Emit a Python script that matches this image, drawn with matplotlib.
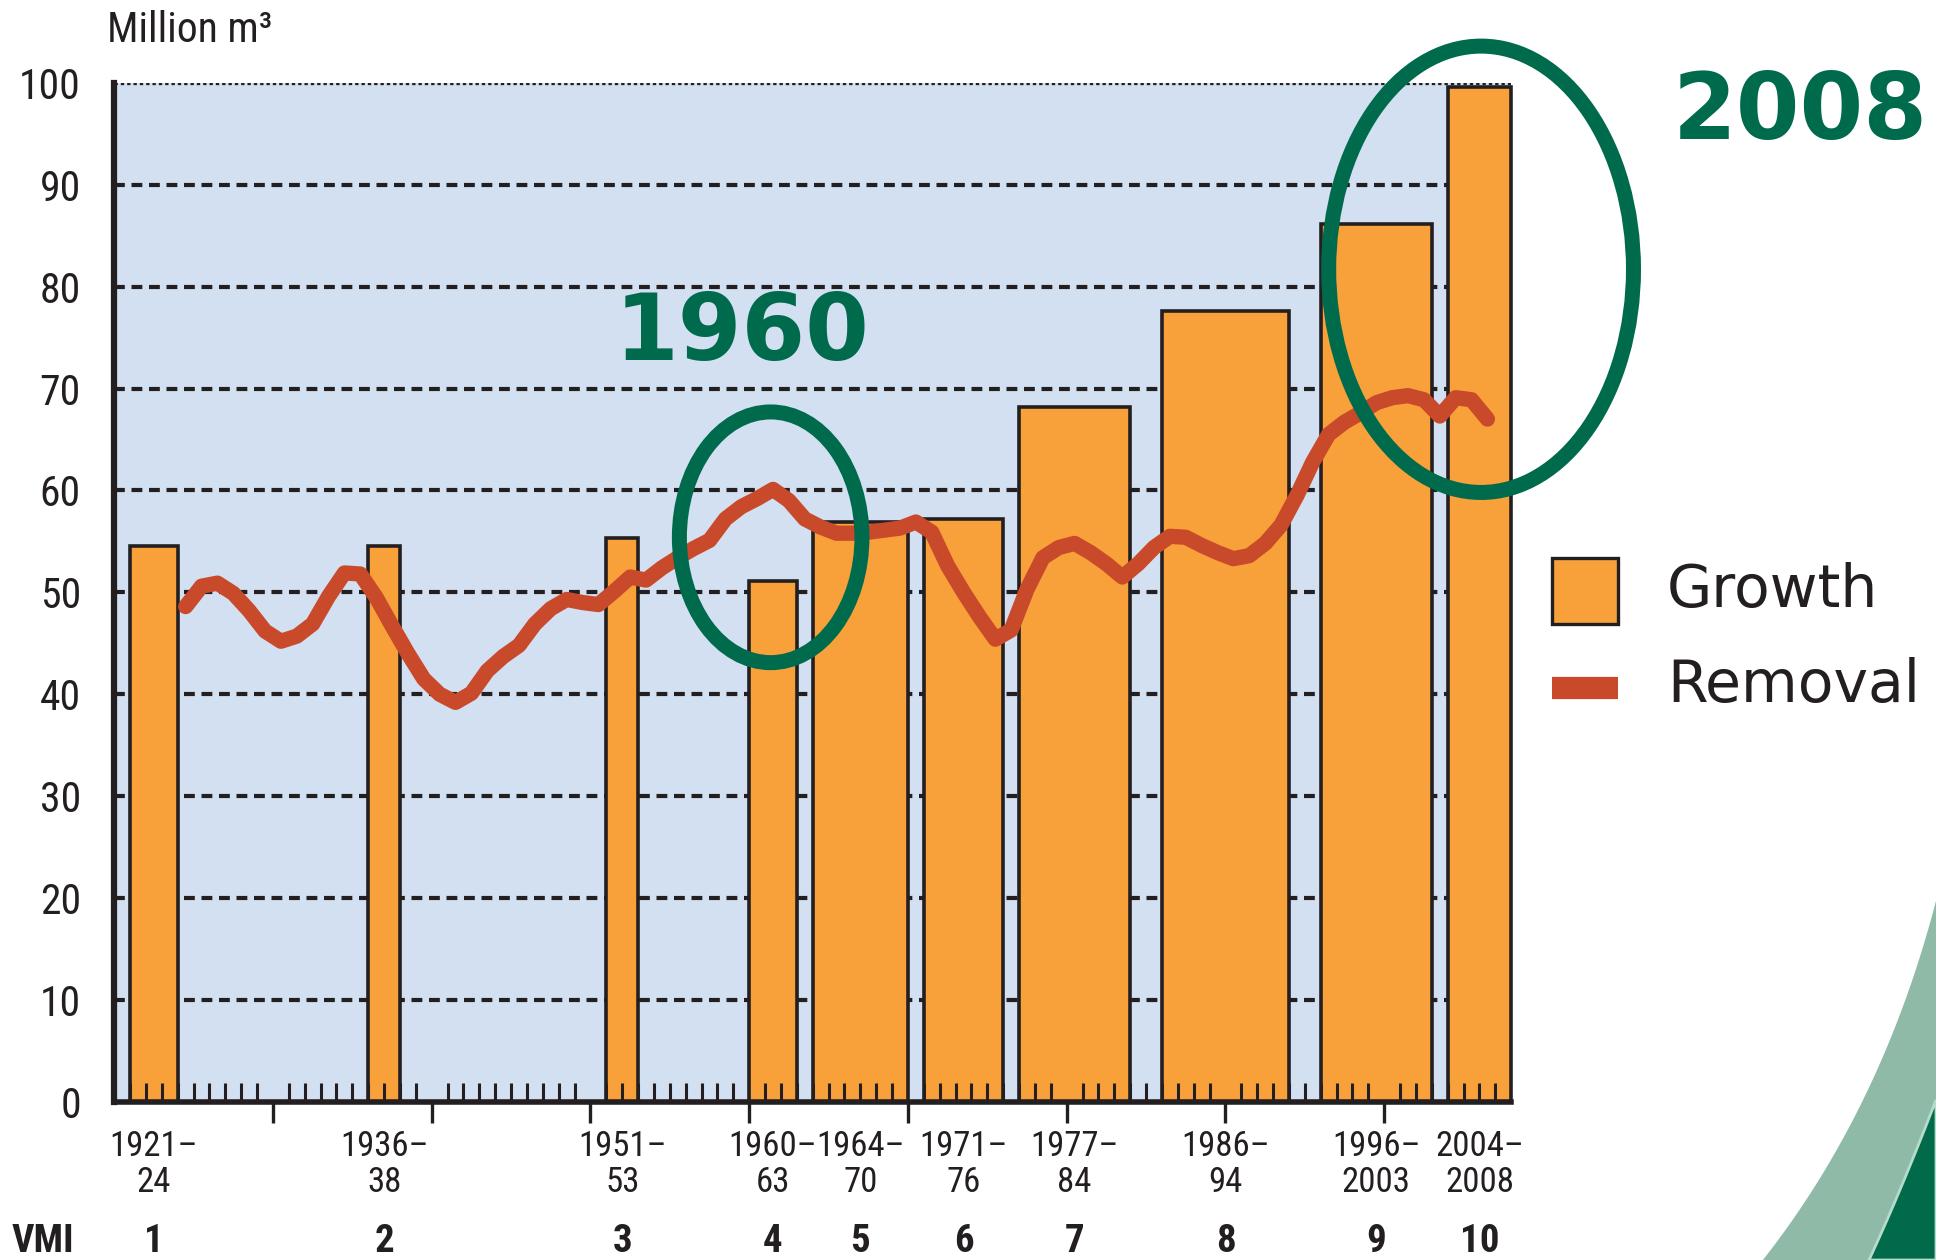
import matplotlib
matplotlib.use("Agg")
import matplotlib.pyplot as plt
from matplotlib import font_manager
from matplotlib.patches import Ellipse, Rectangle, Polygon
from matplotlib.lines import Line2D
import numpy as np

# 좁은(condensed) 글꼴 찾기 - 없으면 DejaVu Sans 사용
def find_narrow_font(bold=False):
    prefer = ['Liberation Sans Narrow', 'Roboto Condensed', 'Open Sans Condensed',
              'Noto Sans', 'Roboto', 'Open Sans', 'DejaVu Sans', 'Lato', 'Inter']
    found = []
    for f in font_manager.fontManager.ttflist:
        st = f.stretch
        is_narrow = ('Narrow' in f.name or 'Condensed' in f.name or
                     (isinstance(st, str) and 'condensed' in st) or
                     (isinstance(st, int) and st < 500))
        if not is_narrow or f.style != 'normal':
            continue
        w = f.weight if isinstance(f.weight, int) else (700 if 'bold' in str(f.weight) else 400)
        if bold and w < 600:
            continue
        if not bold and w != 400:
            continue
        rank = prefer.index(f.name) if f.name in prefer else len(prefer)
        found.append((rank, f.fname))
    if found:
        found.sort()
        return font_manager.FontProperties(fname=found[0][1])
    return None

narrow_fp = find_narrow_font()
narrow_bold_fp = find_narrow_font(bold=True)
print("narrow:", narrow_fp.get_file() if narrow_fp else None)

# ---- 데이터 ----
# VMI 조사 기간 (막대 시작/끝 연도)
period_start = [1921, 1936, 1951, 1960, 1964, 1971, 1977, 1986, 1996, 2004]
period_end = [1924, 1938, 1953, 1963, 1970, 1976, 1984, 1994, 2003, 2008]
period_labels = ['1921–\n24', '1936–\n38', '1951–\n53', '1960–\n63', '1964–\n70',
                 '1971–\n76', '1977–\n84', '1986–\n94', '1996–\n2003', '2004–\n2008']
vmi_labels = ['1', '2', '3', '4', '5', '6', '7', '8', '9', '10']
growth = [54.5, 54.5, 55.3, 51.1, 56.9, 57.2, 68.2, 77.6, 86.1, 99.6]

# 연간 벌채량 (Removal), 1924-2006
removal_years = list(range(1924, 2007))
removal = [48.6, 50.6, 50.9, 49.9, 48.2, 46.2, 45.2, 45.7, 46.9, 49.6,
           51.9, 51.8, 49.5, 46.7, 44.0, 41.5, 40.0, 39.2, 40.1, 42.3,
           43.7, 44.8, 46.9, 48.4, 49.3, 49.0, 48.8, 50.1, 51.5, 51.2,
           52.4, 53.4, 54.3, 55.1, 57.2, 58.4, 59.2, 60.1, 59.0, 57.2,
           56.4, 55.8, 55.8, 55.9, 56.1, 56.3, 56.9, 55.9, 52.6, 50.0,
           47.6, 45.4, 46.3, 50.3, 53.4, 54.4, 54.8, 53.9, 52.8, 51.5,
           52.8, 54.4, 55.5, 55.4, 54.6, 53.9, 53.3, 53.6, 54.8, 56.6,
           59.5, 62.8, 65.5, 66.7, 67.6, 68.6, 69.1, 69.3, 68.9, 67.3,
           69.1, 68.9, 67.0]

# 색상
orange = '#F8A13A'
red = '#C9492B'
green = '#006A4C'
ink = '#231F20'
bg_blue = '#D3E0F1'


def tick_font(size, bold=False):
    # 좁은 글꼴이 있으면 그 파일을, 없으면 작은 DejaVu Sans
    fp = narrow_bold_fp if bold else narrow_fp
    if fp is None:
        fp = font_manager.FontProperties(family='DejaVu Sans',
                                         weight='bold' if bold else 'normal')
        size = size * 0.8
    fp = fp.copy()
    fp.set_size(size)
    return fp


fig = plt.figure(figsize=(19.36, 12.6), dpi=100)
ax = fig.add_axes([0.0590, 0.1255, 0.7216, 0.8088])
ax.set_facecolor(bg_blue)
ax.set_xlim(1920, 2008)
ax.set_ylim(0, 100)

# 점선 격자 (막대 뒤)
for v in range(10, 100, 10):
    ax.axhline(v, color=ink, lw=3.0, ls=(0, (2.6, 1.6)), zorder=0.8)
ax.axhline(100, color=ink, lw=2.4, ls=(0, (1.0, 0.9)), zorder=0.8)

# 막대: 성장량
starts = np.array(period_start)
widths = np.array(period_end) - starts
ax.bar(starts, growth, width=widths, align='edge', color=orange,
       edgecolor=ink, linewidth=2.6, zorder=1, clip_on=False)

# 선: 벌채량 (연도 중간에 표시)
ax.plot(np.array(removal_years) + 0.5, removal, color=red, lw=11,
        solid_capstyle='round', solid_joinstyle='round', zorder=3)

# 축 꾸미기
for s in ['top', 'right']:
    ax.spines[s].set_visible(False)
ax.spines['left'].set_linewidth(4.5)
ax.spines['bottom'].set_linewidth(4)
ax.spines['left'].set_color(ink)
ax.spines['bottom'].set_color(ink)

ax.set_yticks(range(0, 101, 10))
ax.tick_params(axis='y', length=0, pad=24, labelcolor=ink)
for lab in ax.get_yticklabels():
    lab.set_fontproperties(tick_font(30))

ax.set_xticks(range(1930, 2001, 10))
ax.set_xticklabels([])
ax.set_xticks(range(1921, 2008), minor=True)
ax.tick_params(axis='x', which='major', direction='out', length=15, width=2.4, color=ink)
ax.tick_params(axis='x', which='minor', direction='in', length=14, width=2.2, color=ink)

# 기간 라벨과 VMI 번호
xt = ax.get_xaxis_transform()
centers = starts + widths / 2
for c, lab, num in zip(centers, period_labels, vmi_labels):
    top, bottom = lab.split('\n')
    ax.text(c, -0.0436, top, transform=xt, ha='center', va='center',
            fontproperties=tick_font(25), color=ink)
    ax.text(c, -0.0788, bottom, transform=xt, ha='center', va='center',
            fontproperties=tick_font(25), color=ink)
    ax.text(c, -0.137, num, transform=xt, ha='center', va='center',
            fontproperties=tick_font(28, bold=True), color=ink)
fig.text(0.022, 0.0147, 'VMI', ha='center', va='center',
         fontproperties=tick_font(28, bold=True), color=ink)

fig.text(0.0555, 0.9755, 'Million m³', ha='left', va='center',
         fontproperties=tick_font(30), color=ink)

# 강조 타원과 연도
ax.add_patch(Ellipse((1961.35, 55.4), 11.5, 24.6, fill=False, edgecolor=green,
                     lw=10.8, zorder=4, clip_on=False))
ax.add_patch(Ellipse((2006.1, 81.7), 19.2, 43.8, fill=False, edgecolor=green,
                     lw=10.8, zorder=4, clip_on=False))
fig.text(0.3833, 0.735, '1960', ha='center', va='center', fontsize=66,
         fontweight='bold', color=green)
fig.text(0.930, 0.910, '2008', ha='center', va='center', fontsize=66,
         fontweight='bold', color=green)

# 범례 (직접 그림)
fig.patches.append(Rectangle((0.8017, 0.505), 0.0338, 0.052, transform=fig.transFigure,
                             facecolor=orange, edgecolor=ink, lw=2.4))
fig.lines.append(Line2D([0.8017, 0.8355], [0.454, 0.454], transform=fig.transFigure,
                        color=red, lw=16, solid_capstyle='butt'))
fig.text(0.861, 0.531, 'Growth', ha='left', va='center', fontsize=42, color=ink)
fig.text(0.861, 0.456, 'Removal', ha='left', va='center', fontsize=42, color=ink)

# 오른쪽 아래 장식 (곡선 띠)
t = np.linspace(0, 1, 30)
lx = (1 - t) ** 2 * 1.0 + 2 * (1 - t) * t * 0.972 + t ** 2 * 0.9106
ly = (1 - t) ** 2 * 0.285 + 2 * (1 - t) * t * 0.12 + t ** 2 * 0.0
fig.patches.append(Polygon(np.column_stack([np.append(lx, 1.0), np.append(ly, 0.0)]),
                           closed=True, transform=fig.transFigure,
                           facecolor='#8FBAA8', edgecolor='none'))
dx = (1 - t) ** 2 * 1.0 + 2 * (1 - t) * t * 0.982 + t ** 2 * 0.9654
dy = (1 - t) ** 2 * 0.127 + 2 * (1 - t) * t * 0.055 + t ** 2 * 0.0
fig.patches.append(Polygon(np.column_stack([np.append(dx, 1.0), np.append(dy, 0.0)]),
                           closed=True, transform=fig.transFigure,
                           facecolor='#006A4A', edgecolor='#B5DCCB', lw=2))

fig.savefig('out.png', dpi=100)
